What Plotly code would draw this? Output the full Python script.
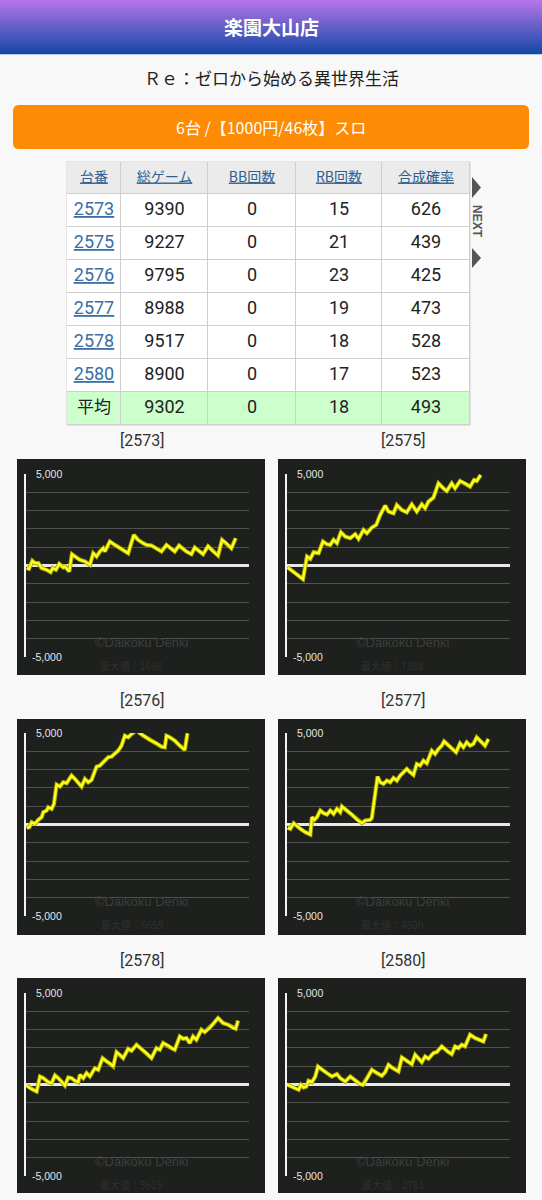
import plotly.graph_objects as go

W, H = 542, 1200

# ---------------- data ----------------
store_name = "楽園大山店"
machine_name = "Ｒｅ：ゼロから始める異世界生活"
banner_text = "6台 /【1000円/46枚】スロ"

columns = ["台番", "総ゲーム", "BB回数", "RB回数", "合成確率"]
units = ["2573", "2575", "2576", "2577", "2578", "2580"]
total_games = [9390, 9227, 9795, 8988, 9517, 8900]
bb_counts = [0, 0, 0, 0, 0, 0]
rb_counts = [15, 21, 23, 19, 18, 17]
combined_prob = [626, 439, 425, 473, 528, 523]
avg_label = "平均"
avg_values = [9302, 0, 18, 493]

max_values = [1698, 7388, 6659, 4800, 3615, 2781]
y_tick_vals = [5000, -5000]
y_tick_text = ["5,000", "-5,000"]
watermark = "©Daikoku Denki"

games_2573 = [30, 135, 285, 405, 555, 705, 930, 1110, 1200, 1350, 1500, 1680, 1755, 1950, 2070, 2205, 2430, 2655,
              2880, 3030, 3180, 3330, 3480, 3555, 3780, 4005, 4230, 4455, 4605, 4860, 5055, 5280, 5430, 5655, 5880,
              6105, 6330, 6480, 6705, 6900, 7080, 7230, 7455, 7605, 7830, 7980, 8205, 8400, 8655, 8835, 9030, 9255, 9450]
diff_2573 = [-145, -182, 255, 127, 127, -145, -236, -364, -145, -236, 91, -109, -55, -327, 618, 491, 309, 218, 36,
             673, 491, 764, 945, 764, 1309, 1127, 945, 764, 673, 1673, 1400, 1218, 1127, 1091, 945, 764, 1127, 982,
             764, 1091, 909, 764, 618, 982, 764, 618, 1054, 800, 545, 1400, 1218, 945, 1491]

games_2575 = [30, 225, 450, 720, 900, 1050, 1200, 1425, 1620, 1800, 1950, 2100, 2250, 2430, 2625, 2850, 3075, 3225,
              3450, 3600, 3825, 4020, 4200, 4425, 4575, 4800, 4950, 5175, 5400, 5625, 5850, 6075, 6225, 6375, 6600,
              6825, 7050, 7200, 7425, 7575, 7800, 8025, 8250, 8430, 8550, 8730]
diff_2575 = [-109, -291, -473, -745, 491, 364, 727, 673, 1309, 1164, 1127, 1400, 1218, 1818, 1582, 1491, 1709, 1455,
             1945, 1764, 2073, 2218, 2763, 3272, 2945, 2854, 3309, 3036, 2909, 3345, 2945, 3345, 3127, 3491, 3709,
             4491, 4218, 4073, 4491, 4218, 4618, 4491, 4309, 4673, 4618, 4945]

games_2576 = [30, 150, 255, 405, 555, 705, 780, 930, 1005, 1155, 1260, 1380, 1530, 1680, 1830, 2055, 2205, 2355,
              2505, 2655, 2805, 2955, 3180, 3330, 3405, 3555, 3705, 3855, 4005, 4155, 4305, 4455, 4605, 4710, 4860,
              4965, 5085, 5280, 5580, 5880, 6105, 6255, 6330, 6480, 6705, 6930, 7155, 7275]
diff_2576 = [-182, -145, 127, 36, 255, 400, 673, 764, 945, 855, 1127, 2182, 2073, 2309, 2254, 2673, 2491, 2309,
             2073, 2491, 2309, 2436, 3163, 3218, 3309, 3491, 3673, 3709, 3891, 4036, 4309, 4854, 4764, 4909, 5036,
             6659, 5036, 4854, 4618, 4436, 4254, 4218, 4854, 4764, 4582, 4309, 4073, 4982]

games_2577 = [30, 150, 300, 450, 600, 825, 1050, 1125, 1230, 1350, 1500, 1650, 1800, 1950, 2100, 2250, 2400, 2475,
              2700, 2925, 3150, 3375, 3525, 3750, 3825, 4080, 4200, 4350, 4500, 4650, 4800, 4950, 5100, 5250, 5400,
              5550, 5700, 5850, 6000, 6150, 6300, 6525, 6675, 6825, 6975, 7080, 7275, 7425, 7620, 7800, 7950, 8100,
              8250, 8400, 8550, 8700, 8925, 9075]
diff_2577 = [-182, -236, 73, -109, -236, -418, -545, 400, 255, 400, 764, 618, 545, 764, 582, 855, 673, 982,
             764, 545, 255, 73, 218, 255, 364, 2618, 2309, 2218, 2400, 2309, 2545, 2400, 2673, 2854, 3036,
             2854, 2709, 3309, 3218, 3491, 3345, 4036, 3854, 4127, 4309, 4545, 4309, 4127, 3945, 4436, 4218, 4491,
             4309, 4400, 4764, 4582, 4309, 4673]

games_2578 = [30, 180, 330, 480, 630, 780, 1005, 1155, 1305, 1455, 1605, 1755, 1905, 2055, 2205, 2355, 2430, 2580,
              2730, 2880, 3105, 3255, 3450, 3630, 3780, 3930, 4080, 4230, 4380, 4605, 4755, 4980, 5205, 5430, 5655,
              5880, 6030, 6180, 6405, 6555, 6705, 6930, 7080, 7230, 7380, 7530, 7680, 7905, 8055, 8280, 8430, 8655,
              8880, 9105, 9330, 9450, 9555]
diff_2578 = [-55, -201, -292, -383, 438, 347, 128, 73, 493, 347, 164, -55, 383, 347, 201, 128, 529, 347,
             621, 438, 894, 803, 1442, 1259, 1168, 986, 1770, 1624, 1442, 1953, 1843, 2172, 1953, 1716, 1442,
             1989, 1898, 2263, 2135, 1989, 1898, 2628, 2500, 2537, 2263, 2628, 2446, 2993, 2865, 3084, 3303, 3632,
             3358, 3267, 3084, 3048, 3486]

games_2580 = [30, 180, 375, 525, 630, 750, 870, 975, 1125, 1275, 1395, 1575, 1800, 2025, 2250, 2400, 2625, 2850,
              3075, 3300, 3420, 3600, 3825, 4050, 4275, 4425, 4575, 4725, 4875, 5025, 5175, 5325, 5475, 5625, 5775,
              5925, 6075, 6225, 6375, 6600, 6750, 6975, 7125, 7275, 7425, 7575, 7725, 7875, 8025, 8250, 8475, 8625,
              8850, 8970]
diff_2580 = [-18, -110, -201, -292, -18, -164, -110, 201, 128, 438, 986, 803, 621, 438, 566, 347, 164, 438,
             201, 18, -18, 310, 803, 621, 475, 675, 1077, 931, 803, 712, 1478, 1351, 1223, 1113, 1624,
             1442, 1223, 1533, 1405, 1716, 1770, 2081, 1898, 1770, 1661, 2081, 1989, 2172, 2081, 2719, 2537, 2446,
             2354, 2756]

series_games = [games_2573, games_2575, games_2576, games_2577, games_2578, games_2580]
series_diff = [diff_2573, diff_2575, diff_2576, diff_2577, diff_2578, diff_2580]

# ---------------- styles ----------------
PAGE_BG = "#f8f8f8"
CHART_BG = "#1d201d"
CJK = "Noto Sans CJK JP"
LINK = "#3a6ea5"


def fx(p):
    return p / W


def fy(p):
    return 1 - p / H


def ann(text, x, y, size, color, family=CJK, xref="paper", yref="paper", **kw):
    d = dict(text=text, x=x, y=y, xref=xref, yref=yref, showarrow=False,
             xanchor="center", yanchor="middle", font=dict(family=family, size=size, color=color))
    d.update(kw)
    return d


fig = go.Figure()
shapes = []
annotations = []

# header gradient bar
top_c = (182, 116, 232)
bot_c = (22, 72, 168)
n_strips = 27
for i in range(n_strips):
    t = i / (n_strips - 1)
    c = tuple(int(round(top_c[k] + (bot_c[k] - top_c[k]) * t)) for k in range(3))
    shapes.append(dict(type="rect", xref="paper", yref="paper", x0=0, x1=1,
                       y0=fy(2 * i + 2.2), y1=fy(2 * i), line=dict(width=0),
                       fillcolor="rgb(%d,%d,%d)" % c, layer="below"))
annotations.append(ann("<b>" + store_name + "</b>", 0.5, fy(26), 19, "white"))
annotations.append(ann(machine_name, 0.5, fy(78), 17, "#222222"))

# orange banner (rounded rect)
bx0, bx1, by0, by1, r = 13, 529, 105, 149, 6
path = (f"M {fx(bx0 + r)},{fy(by0)} L {fx(bx1 - r)},{fy(by0)} Q {fx(bx1)},{fy(by0)} {fx(bx1)},{fy(by0 + r)} "
        f"L {fx(bx1)},{fy(by1 - r)} Q {fx(bx1)},{fy(by1)} {fx(bx1 - r)},{fy(by1)} "
        f"L {fx(bx0 + r)},{fy(by1)} Q {fx(bx0)},{fy(by1)} {fx(bx0)},{fy(by1 - r)} "
        f"L {fx(bx0)},{fy(by0 + r)} Q {fx(bx0)},{fy(by0)} {fx(bx0 + r)},{fy(by0)} Z")
shapes.append(dict(type="path", xref="paper", yref="paper", path=path,
                   fillcolor="#fd8b04", line=dict(width=0), layer="below"))
annotations.append(ann(banner_text, 0.5, fy(127), 16, "white"))

# ---------------- table (heatmap cells + text) ----------------
col_widths = [54, 87, 88, 86, 88]
header_h, row_h = 32, 33
x_edges = [0]
for w_ in col_widths:
    x_edges.append(x_edges[-1] + w_)
n_body = len(units) + 1
y_edges = [0, header_h] + [header_h + row_h * (k + 1) for k in range(n_body)]
x_centers = [(x_edges[k] + x_edges[k + 1]) / 2 for k in range(len(col_widths))]
y_centers = [(y_edges[k] + y_edges[k + 1]) / 2 for k in range(len(y_edges) - 1)]

tbl_x0, tbl_y0 = 67, 162
tbl_x1, tbl_y1 = tbl_x0 + x_edges[-1], tbl_y0 + y_edges[-1]
shapes.append(dict(type="rect", xref="paper", yref="paper", x0=fx(tbl_x0 - 0.5), x1=fx(tbl_x1 + 0.5),
                   y0=fy(tbl_y1 + 0.5), y1=fy(tbl_y0 - 0.5), fillcolor="#cfcfcf", line=dict(width=0),
                   layer="below"))

z_rows = [[0] * len(columns)] + [[1] * len(columns) for _ in units] + [[2] * len(columns)]
fig.add_trace(go.Heatmap(x=x_edges, y=y_edges, z=z_rows, xaxis="x7", yaxis="y7", xgap=1, ygap=1,
                         zmin=0, zmax=2, showscale=False, hoverinfo="skip",
                         colorscale=[[0, "#ebebeb"], [0.5, "#ffffff"], [1, "#ccffcc"]]))

# header texts
fig.add_trace(go.Scatter(x=x_centers, y=[y_centers[0]] * len(columns), mode="text",
                         text=["<u>" + c_ + "</u>" for c_ in columns], xaxis="x7", yaxis="y7",
                         textposition="middle center", hoverinfo="skip",
                         textfont=dict(family=CJK, size=14, color="#2f5f8f")))

# body texts
body_cols = [total_games, bb_counts, rb_counts, combined_prob]
bx, byv, btxt, bcol = [], [], [], []
for ri, u in enumerate(units):
    bx.append(x_centers[0]); byv.append(y_centers[ri + 1]); btxt.append("<u>" + u + "</u>"); bcol.append(LINK)
    for ci, col in enumerate(body_cols):
        bx.append(x_centers[ci + 1]); byv.append(y_centers[ri + 1]); btxt.append(str(col[ri])); bcol.append("#222222")
for ci, v in enumerate(avg_values):
    bx.append(x_centers[ci + 1]); byv.append(y_centers[-1]); btxt.append(str(v)); bcol.append("#222222")
fig.add_trace(go.Scatter(x=bx, y=byv, mode="text", text=btxt, xaxis="x7", yaxis="y7",
                         textposition="middle center", hoverinfo="skip",
                         textfont=dict(family="Roboto", size=18, color=bcol)))
fig.add_trace(go.Scatter(x=[x_centers[0]], y=[y_centers[-1]], mode="text", text=[avg_label], xaxis="x7",
                         yaxis="y7", textposition="middle center", hoverinfo="skip",
                         textfont=dict(family=CJK, size=17, color="#222222")))

# NEXT tab
def tri(y0, y1):
    ym = (y0 + y1) / 2
    return f"M {fx(472)},{fy(y0)} L {fx(481)},{fy(ym)} L {fx(472)},{fy(y1)} Z"


shapes.append(dict(type="path", xref="paper", yref="paper", path=tri(177, 198), fillcolor="#555555", line=dict(width=0)))
shapes.append(dict(type="path", xref="paper", yref="paper", path=tri(248, 268), fillcolor="#555555", line=dict(width=0)))
annotations.append(ann("<b>NEXT</b>", fx(477), fy(221), 12, "#555555", family="Liberation Sans", textangle=90))

# ---------------- charts ----------------
col_box = [(17, 265), (278, 526)]
col_dom = [(26, 249), (287, 510)]
row_box = [(459, 675), (719, 935), (978, 1193)]
row_dom = [(474, 657), (733, 916), (993, 1176)]
title_y = [440, 700, 960]
title_x = [142, 403]

layout_axes = {
    "xaxis7": dict(domain=[fx(tbl_x0), fx(tbl_x1)], range=[0, x_edges[-1]], anchor="y7", visible=False,
                   fixedrange=True),
    "yaxis7": dict(domain=[fy(tbl_y1), fy(tbl_y0)], range=[y_edges[-1], 0], anchor="x7", visible=False,
                   fixedrange=True),
}
for i, unit in enumerate(units):
    r, c = divmod(i, 2)
    n = i + 1
    xa = "x" if n == 1 else f"x{n}"
    ya = "y" if n == 1 else f"y{n}"
    shapes.append(dict(type="rect", xref="paper", yref="paper",
                       x0=fx(col_box[c][0]), x1=fx(col_box[c][1]),
                       y0=fy(row_box[r][1]), y1=fy(row_box[r][0]),
                       fillcolor=CHART_BG, line=dict(width=0), layer="below"))
    fig.add_trace(go.Scatter(x=series_games[i], y=series_diff[i], mode="lines", xaxis=xa, yaxis=ya,
                             line=dict(color="#a8a800", width=4.2), hoverinfo="skip", showlegend=False))
    fig.add_trace(go.Scatter(x=series_games[i], y=series_diff[i], mode="lines", xaxis=xa, yaxis=ya,
                             line=dict(color="#ffff1e", width=2.3), showlegend=False))
    layout_axes["xaxis" if n == 1 else f"xaxis{n}"] = dict(
        domain=[fx(col_dom[c][0]), fx(col_dom[c][1])], range=[0, 10050], anchor=ya,
        showgrid=False, zeroline=False, showline=False, showticklabels=False, fixedrange=True)
    layout_axes["yaxis" if n == 1 else f"yaxis{n}"] = dict(
        domain=[fy(row_dom[r][1]), fy(row_dom[r][0])], range=[-5000, 5000], anchor=xa,
        tickvals=list(range(-5000, 5001, 1000)), showticklabels=False, ticks="",
        showgrid=True, gridcolor="#505250", gridwidth=1,
        zeroline=True, zerolinecolor="#e8e8e8", zerolinewidth=3,
        showline=True, linecolor="#f2f2f2", linewidth=2, fixedrange=True)
    annotations.append(ann(f"[{unit}]", fx(title_x[c]), fy(title_y[r]), 16, "#333333", family="Roboto"))
    for tv, tt in zip(y_tick_vals, y_tick_text):
        annotations.append(ann(tt, 0.17, tv, 10.5, "#e6e6e6", family="Liberation Sans",
                               xref=f"{xa} domain", yref=ya, xanchor="right", bgcolor=CHART_BG, borderpad=1))
    annotations.append(ann(watermark, 0.52, 0.08, 13, "#3c3f3c", family="Liberation Sans",
                           xref=f"{xa} domain", yref=f"{ya} domain"))
    annotations.append(ann(f"最大値：{max_values[i]}", 0.475, -0.045, 10, "#303030",
                           xref=f"{xa} domain", yref=f"{ya} domain"))

fig.update_layout(
    width=W, height=H, margin=dict(l=0, r=0, t=0, b=0),
    paper_bgcolor=PAGE_BG, plot_bgcolor="rgba(0,0,0,0)",
    showlegend=False, shapes=shapes, annotations=annotations, **layout_axes)

fig.write_html("out.html", config={"displayModeBar": False},
               post_script="document.body.style.margin='0';document.body.style.background='#f8f8f8';")
